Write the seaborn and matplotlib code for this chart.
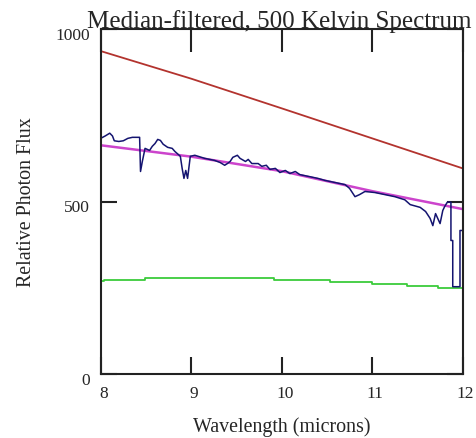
import matplotlib
matplotlib.use("Agg")
import matplotlib.pyplot as plt
import matplotlib.transforms as mtransforms
import numpy as np
import pandas as pd
import seaborn as sns

# ---- data ----
x_ticks = [8, 9, 10, 11, 12]
y_ticks = [0, 500, 1000]

red_x = [8.0, 9.0, 10.0, 11.0, 12.0]
red_y = [936, 856, 770, 683, 596]

fit_x = [8.0, 9.0, 10.0, 11.0, 12.0]
fit_y = [663, 630, 588, 530, 478]

green_x = [8.0, 8.04, 8.49, 9.92, 10.53, 11.0, 11.38, 11.73, 12.0]
green_y = [270, 273, 278, 273, 267, 261, 254, 250, 250]

spec_x = [8.00, 8.05, 8.10, 8.13, 8.15, 8.20, 8.25, 8.30, 8.35, 8.40,
          8.43, 8.44, 8.46, 8.49, 8.54, 8.57, 8.60, 8.63, 8.66, 8.69,
          8.74, 8.79, 8.82, 8.88, 8.90, 8.92, 8.94, 8.96, 8.99, 9.04,
          9.15, 9.26, 9.32, 9.37, 9.40, 9.43, 9.46, 9.51, 9.54, 9.60,
          9.63, 9.67, 9.74, 9.78, 9.83, 9.87, 9.93, 9.98, 10.04, 10.09,
          10.15, 10.20, 10.31, 10.40, 10.48, 10.59, 10.70, 10.75, 10.81, 10.86,
          10.92, 11.03, 11.14, 11.25, 11.36, 11.42, 11.53, 11.59, 11.64, 11.67,
          11.70, 11.75, 11.78, 11.80, 11.83, 11.87, 11.87, 11.89, 11.89, 11.97,
          11.97, 11.99]
spec_y = [683, 690, 698, 690, 676, 674, 676, 683, 686, 686,
          686, 587, 616, 654, 648, 660, 668, 680, 677, 666,
          657, 654, 645, 631, 596, 567, 590, 567, 631, 634,
          625, 619, 613, 605, 610, 616, 628, 634, 625, 616,
          622, 610, 610, 602, 605, 593, 596, 584, 590, 581,
          587, 578, 572, 567, 561, 555, 549, 538, 514, 520,
          529, 526, 520, 514, 505, 491, 483, 471, 451, 430,
          465, 436, 474, 485, 498, 498, 387, 387, 253, 253,
          416, 416]

red_df = pd.DataFrame({"x": red_x, "y": red_y})
fit_df = pd.DataFrame({"x": fit_x, "y": fit_y})
green_df = pd.DataFrame({"x": green_x, "y": green_y})
spec_df = pd.DataFrame({"x": spec_x, "y": spec_y})

sns.set_style("white")
plt.rcParams["font.family"] = ["Liberation Serif", "DejaVu Serif"]

W, H = 476, 439
PT = 72 / 100  # points per pixel at dpi 100
fig = plt.figure(figsize=(W / 100, H / 100), dpi=100)
ax = fig.add_axes([100.7 / W, 1 - 375 / H, (462.7 - 100.7) / W, (375 - 30) / H])

sns.lineplot(data=red_df, x="x", y="y", ax=ax, color="#b3332e", lw=1.3,
             estimator=None, sort=False)
sns.lineplot(data=green_df, x="x", y="y", ax=ax, color="#3ccb3c", lw=1.3,
             estimator=None, sort=False, drawstyle="steps-post")
sns.lineplot(data=fit_df, x="x", y="y", ax=ax, color="#cc44cc", lw=1.8,
             estimator=None, sort=False)
sns.lineplot(data=spec_df, x="x", y="y", ax=ax, color="#141470", lw=1.1,
             estimator=None, sort=False)

ax.set_xlim(8, 12)
ax.set_ylim(0, 1000)
ax.set_xticks(x_ticks)
ax.set_yticks(y_ticks)
ax.set_xticklabels([str(v) for v in x_ticks])
ax.set_yticklabels([str(v) for v in y_ticks])
ax.set_xlabel("Wavelength (microns)", fontsize=14.4, labelpad=11)
ax.set_ylabel("Relative Photon Flux", fontsize=14.4, labelpad=14)

for s in ax.spines.values():
    s.set_linewidth(1.5)
    s.set_color("#222222")

ax.tick_params(axis="x", direction="in", length=17 * PT, width=1.5, pad=8,
               labelsize=12.5, bottom=True, top=False, color="#222222")
ax.tick_params(axis="y", direction="in", length=16 * PT, width=1.5, pad=8,
               labelsize=12.5, left=True, right=True, color="#222222")

sec = ax.secondary_xaxis("top")
sec.set_xticks(x_ticks)
sec.tick_params(direction="in", length=23 * PT, width=1.5, labeltop=False, color="#222222")
sec.spines["top"].set_visible(False)

dx = mtransforms.ScaledTranslation(3 / 100, 0, fig.dpi_scale_trans)
for lbl in ax.get_xticklabels():
    lbl.set_transform(lbl.get_transform() + dx)
dy = mtransforms.ScaledTranslation(0, -4 / 100, fig.dpi_scale_trans)
for lbl in ax.get_yticklabels():
    lbl.set_transform(lbl.get_transform() + dy)

fig.text(279 / W, 1 - 28 / H, "Median-filtered, 500 Kelvin Spectrum",
         ha="center", va="baseline", fontsize=18)

fig.savefig("out.png", dpi=100, facecolor="white")
